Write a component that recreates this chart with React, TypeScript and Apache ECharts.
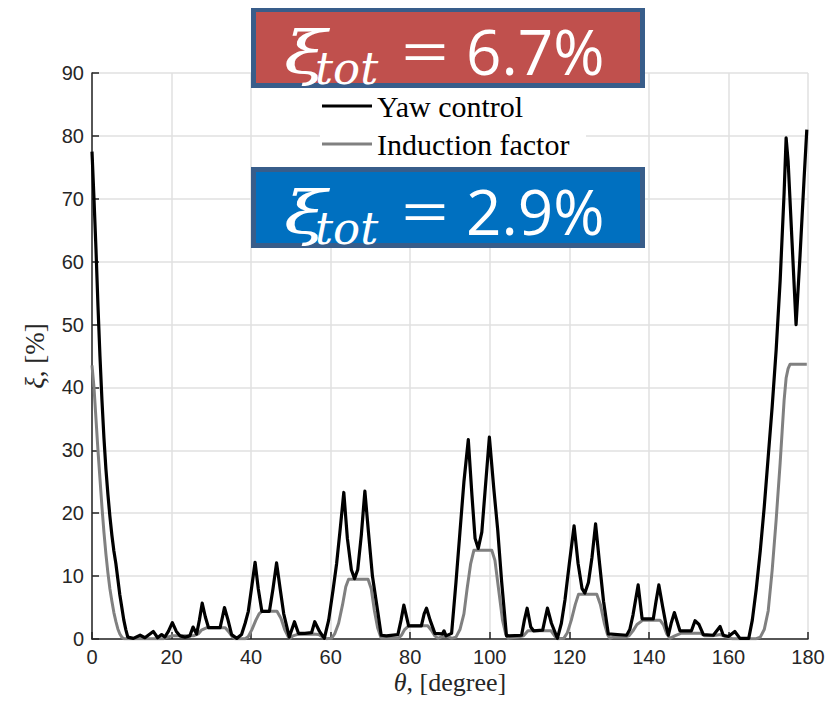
import React, { useEffect, useRef } from "react";
import * as echarts from "echarts";

// ---- data ----
const yawTheta = [
  0, 0.5, 1, 1.5, 2, 2.5, 3, 3.5, 4, 4.5, 5, 5.5, 6, 6.5, 7, 7.5, 8, 8.5, 9, 10.4,
  12.1, 13.3, 15.4, 16.5, 17.5, 18.3, 19.2, 20.2, 21.2, 22.1, 23.4, 24.6, 25.4, 26.3, 27.0, 27.7,
  28.5, 29.3, 32.2, 32.8, 33.3, 34.2, 35.1, 36.4, 37.6, 38.5, 39.3, 40.2, 41.0, 41.8, 42.7, 44.6,
  45.5, 46.4, 47.3, 48.2, 49.6, 50.9, 51.9, 53.5, 55.2, 56.0, 57.2, 58.4, 59.5, 60.6, 61.5, 62.4,
  63.3, 64.2, 65.2, 66.0, 66.8, 67.7, 68.6, 69.5, 70.5, 71.9, 72.7, 74, 76.9, 77.7, 78.4, 79.6,
  82.8, 83.5, 84.1, 85.0, 86.2, 88.1, 88.5, 89.0, 90.4, 91.5, 92.5, 93.5, 94.6, 95.5, 96.3, 97.1,
  98, 99, 99.9, 101, 102, 103, 104.2, 108, 108.7, 109.4, 110.3, 111, 113.3, 114.0, 114.5, 115.5,
  117, 118, 118.9, 120, 121.2, 122.2, 123.2, 123.9, 124.8, 125.7, 126.6, 127.6, 128.6, 129.8, 134.4, 135.2,
  136.0, 137.3, 138.3, 141.1, 141.8, 142.5, 143.5, 144.5, 144.9, 145.6, 146.4, 147.8, 150.7, 151.6, 152.6, 153.7,
  156.2, 157.9, 158.7, 160, 161.6, 162.9, 165.1, 166, 167, 168, 169, 170, 171, 172, 173, 174,
  174.5, 175, 176, 177, 178, 179, 179.7,
];
const yawValues = [
  77.5, 70, 62, 53, 45, 38, 32, 27, 23, 19.5, 16.5, 14, 12, 9.5, 7, 5, 3, 1.5, 0.3, 0.1,
  0.6, 0.2, 1.2, 0.2, 0.7, 0.3, 1.2, 2.6, 1.2, 0.5, 0.3, 0.5, 1.9, 0.8, 3, 5.7,
  3.5, 1.8, 1.8, 3.5, 5.0, 3, 0.7, 0.1, 0.7, 2.5, 4.4, 8.5, 12.2, 8, 4.4, 4.4,
  8, 12.1, 8, 4, 0.3, 2.75, 0.9, 0.9, 1.0, 2.75, 1.2, 0.1, 3, 7.8, 12, 17.5,
  23.3, 16, 11, 9.6, 11, 16.5, 23.5, 17, 10, 4.1, 0.6, 0.5, 0.7, 3, 5.4, 2.1,
  2.1, 4, 4.9, 3, 0.9, 0.8, 1.3, 0.5, 0.9, 9, 17, 25, 31.7, 23, 16, 14.4,
  17, 25, 32.1, 24, 17.3, 9, 0.5, 0.6, 3, 4.9, 1.9, 1.3, 1.4, 3.5, 4.9, 2.5,
  0.1, 2.5, 6.2, 12, 18.0, 12, 8, 7.3, 9, 13, 18.3, 12, 6, 0.8, 0.6, 1.5,
  3.8, 8.6, 3.2, 3.2, 6, 8.6, 5, 1.6, 0.6, 2.5, 4.2, 1.3, 1.3, 2.9, 2.3, 0.7,
  0.6, 2.0, 0.6, 0.4, 1.2, 0.1, 0.1, 3, 8, 14, 21, 29, 37, 46, 57, 71,
  79.7, 76, 63, 50, 61, 73, 81,
];

const inductionTheta = [
  0, 0.5, 1, 1.5, 2, 2.5, 3, 3.5, 4, 4.5, 5, 5.5, 6, 6.5, 7, 7.5, 8, 18, 19, 20,
  25.5, 26.7, 27.5, 28.9, 33.5, 34.3, 35.2, 36, 38.5, 39.3, 40.2, 41.2, 42.0, 42.7, 46.5, 47.5,
  48.5, 49.3, 49.8, 50.5, 51.5, 55.5, 57, 58.2, 58.9, 60.2, 61, 62, 63, 63.8, 64.5, 69.4,
  70.2, 71, 71.8, 72.7, 77, 77.8, 78.6, 79.6, 84.4, 85.3, 86.2, 87, 88, 89.5, 90.4, 91.5,
  92.5, 93.5, 94.3, 95.2, 96, 100.5, 101.3, 102.2, 103.2, 104, 104.6, 107, 108.5, 109.6, 115.4, 116.3,
  117, 118.6, 119.5, 120.5, 121.5, 122.3, 126.9, 127.8, 128.8, 129.6, 130.2, 131, 134, 135, 136, 137,
  138.5, 142.8, 143.7, 144.5, 145.3, 146.5, 148, 153, 154, 156, 158, 159.5, 161, 167, 168, 169,
  170, 171, 172, 173, 173.5, 174, 174.5, 175, 175.5, 179.7,
];
const inductionValues = [
  43.5, 40, 35, 30, 25.5, 21, 17, 13.5, 10.5, 8, 6, 4.2, 2.8, 1.6, 0.8, 0.3, 0.05, 0.05, 0.3, 0.5,
  0.5, 0.8, 1.4, 1.8, 1.8, 1.2, 0.4, 0.05, 0.05, 0.4, 1.5, 3, 4.0, 4.4, 4.4, 3.3,
  1.4, 0.4, 0.1, 0.5, 0.7, 0.8, 0.7, 0.2, 0.05, 0.1, 0.8, 2.5, 5.5, 8.3, 9.5, 9.5,
  8, 4.5, 1.8, 0.1, 0.1, 0.6, 1.5, 2.1, 2.1, 1.4, 0.5, 0.1, 0.4, 0.4, 0.1, 0.3,
  1.5, 4, 8, 12, 14.1, 14.1, 12.5, 8, 3, 0.8, 0.1, 0.3, 0.5, 1.3, 1.3, 0.5,
  0.05, 0.1, 1, 3, 5.5, 7.1, 7.1, 5.5, 2.5, 0.7, 0.1, 0.3, 0.3, 0.5, 1.3, 2.3,
  3.0, 3.0, 2.2, 0.8, 0.1, 0.5, 0.9, 0.9, 0.5, 0.5, 0.7, 0.3, 0.05, 0.05, 0.3, 1.5,
  4.5, 11, 19, 28, 33, 38, 41.5, 43, 43.7, 43.7,
];

const seriesNames = ["Yaw control", "Induction factor"];
const xTicks = { min: 0, max: 180, interval: 20 };
const yTicks = { min: 0, max: 90, interval: 10 };
const xAxisTitle = "{i|θ}, [degree]";
const yAxisTitle = "{i|ξ}, [%]";
const redLabel = "6.7%";
const blueLabel = "2.9%";

function zip(xs: number[], ys: number[]) {
  return xs.map((x, i) => [x, ys[i]]);
}

function boxGraphics(top: number, fill: string, value: string) {
  const left = 251;
  const w = 394;
  const h = 81;
  return [
    {
      type: "rect",
      z: 10,
      shape: { x: left + 2.5, y: top + 2.5, width: w - 5, height: h - 5 },
      style: { fill, stroke: "#385d8a", lineWidth: 5 },
    },
    {
      type: "text",
      z: 11,
      x: 284,
      y: top + 46,
      scaleX: 1.3,
      style: {
        text: "ξ",
        fill: "#fff",
        font: "italic 60px 'DejaVu Serif'",
        verticalAlign: "middle",
        align: "left",
      },
    },
    {
      type: "text",
      z: 11,
      x: 315,
      y: top + 61,
      style: {
        text: "tot",
        fill: "#fff",
        font: "italic 45px 'DejaVu Serif'",
        verticalAlign: "middle",
        align: "left",
      },
    },
    {
      type: "text",
      z: 11,
      x: 401,
      y: top + 44,
      scaleX: 1.45,
      style: {
        text: "=",
        fill: "#fff",
        font: "58px 'Open Sans'",
        verticalAlign: "middle",
        align: "left",
      },
    },
    {
      type: "text",
      z: 11,
      x: 466,
      y: top + 44,
      style: {
        text: value,
        fill: "#fff",
        font: "62px 'Open Sans'",
        verticalAlign: "middle",
        align: "left",
      },
    },
  ];
}

export default function App() {
  const ref = useRef<HTMLDivElement>(null);

  useEffect(() => {
    if (!ref.current) return;
    const chart = echarts.init(ref.current, undefined, { renderer: "svg" });
    const axisColor = "#262626";
    const nameRich = {
      i: { fontFamily: "'Liberation Serif'", fontSize: 26, fontStyle: "italic", color: axisColor },
    };
    chart.setOption({
      animation: false,
      backgroundColor: "#fff",
      grid: { left: 92, right: 32, top: 73, bottom: 65, containLabel: false },
      legend: {
        data: seriesNames,
        orient: "vertical",
        left: 322,
        top: 90,
        padding: 0,
        itemGap: 6,
        itemWidth: 50,
        itemHeight: 3,
        icon: "rect",
        textStyle: {
          fontFamily: "'Liberation Serif'",
          fontSize: 30,
          lineHeight: 32,
          color: "#000",
        },
      },
      xAxis: {
        type: "value",
        min: xTicks.min,
        max: xTicks.max,
        interval: xTicks.interval,
        axisLine: { show: true, lineStyle: { color: axisColor, width: 1.5 } },
        axisTick: { show: true, inside: true, length: 7, lineStyle: { color: axisColor, width: 1.5 } },
        axisLabel: { color: axisColor, fontFamily: "'Liberation Sans'", fontSize: 20, margin: 8 },
        splitLine: { show: true, lineStyle: { color: "#e1e1e1", width: 1.5 } },
      },
      yAxis: {
        type: "value",
        min: yTicks.min,
        max: yTicks.max,
        interval: yTicks.interval,
        name: yAxisTitle,
        nameLocation: "middle",
        nameGap: 44,
        nameTextStyle: {
          fontFamily: "'Liberation Serif'",
          fontSize: 27,
          color: axisColor,
          rich: {
            i: { fontFamily: "'Liberation Serif'", fontSize: 27, fontStyle: "italic", color: axisColor },
          },
        },
        axisLine: { show: true, lineStyle: { color: axisColor, width: 1.5 } },
        axisTick: { show: true, inside: true, length: 7, lineStyle: { color: axisColor, width: 1.5 } },
        axisLabel: { color: axisColor, fontFamily: "'Liberation Sans'", fontSize: 20, margin: 8 },
        splitLine: { show: true, lineStyle: { color: "#e1e1e1", width: 1.5 } },
      },
      series: [
        {
          name: seriesNames[1],
          type: "line",
          data: zip(inductionTheta, inductionValues),
          symbol: "none",
          smooth: false,
          z: 2,
          color: "#808080",
          itemStyle: { color: "#808080" },
          lineStyle: { color: "#808080", width: 3, join: "round" },
        },
        {
          name: seriesNames[0],
          type: "line",
          data: zip(yawTheta, yawValues),
          symbol: "none",
          smooth: false,
          z: 3,
          color: "#000",
          itemStyle: { color: "#000" },
          lineStyle: { color: "#000", width: 3.2, join: "round" },
        },
      ],
      graphic: [
        {
          type: "line",
          z: 10,
          shape: { x1: 100, y1: 1, x2: 775, y2: 1 },
          style: { stroke: "#000", lineWidth: 2.5 },
        },
        {
          type: "rect",
          z: 3,
          shape: { x: 320, y: 88, width: 266, height: 79 },
          style: { fill: "#fff" },
        },
        {
          type: "text",
          z: 10,
          x: 450,
          y: 682,
          style: {
            text: xAxisTitle,
            fill: axisColor,
            font: "26px 'Liberation Serif'",
            align: "center",
            verticalAlign: "middle",
            rich: nameRich,
          },
        },
        ...boxGraphics(7, "#c0504d", redLabel),
        ...boxGraphics(167, "#0070c0", blueLabel),
      ],
    });
    return () => chart.dispose();
  }, []);

  return <div ref={ref} style={{ width: 840, height: 704, margin: -8 }} />;
}
